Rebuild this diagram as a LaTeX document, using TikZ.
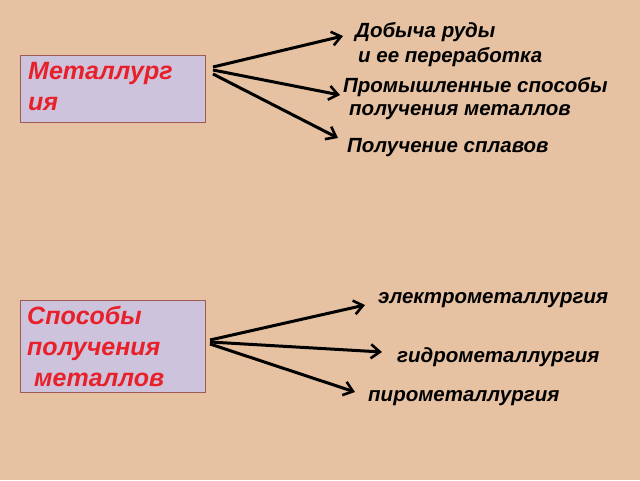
\documentclass[tikz,border=0pt]{standalone}
\usepackage{fontspec}
\setmainfont{Liberation Sans}
\usetikzlibrary{arrows.meta}
\definecolor{bg}{HTML}{E6C2A2}
\definecolor{boxf}{HTML}{CEC3DC}
\definecolor{boxd}{HTML}{9E5A55}
\definecolor{red1}{HTML}{E8202A}
\tikzset{
 box/.style={draw=boxd,line width=1.2pt,fill=boxf,anchor=north west,minimum width=185pt,inner sep=0pt},
 lbl/.style={anchor=west,font=\fontsize{20.5}{23}\selectfont\bfseries\itshape,inner sep=0pt,align=left},
 btxt/.style={anchor=north west,font=\fontsize{25}{31}\selectfont\bfseries\itshape,text=red1,align=left,inner sep=0pt},
 arr/.style={line width=3pt,-{Straight Barb[length=9pt,width=14pt,line width=2.6pt]}}
}
\begin{document}
\begin{tikzpicture}[x=1pt,y=-1pt]
\fill[bg] (0,0) rectangle (640,480);
\useasboundingbox (0,0) rectangle (640,480);
\node[box,minimum height=67pt] (b1) at (20,55) {};
\node[btxt] (t1) at (28,62) {Металлург\\ия};
\node[box,minimum height=92pt] (b2) at (20,300) {};
\node[btxt] (t2) at (27,306) {Способы\\получения\\ \ металлов};
\node[lbl] (a1) at (355,32) {Добыча руды};
\node[lbl] (a2) at (358,57) {и ее переработка};
\node[lbl] (a3) at (343,87) {Промышленные способы};
\node[lbl] (a4) at (349,112) {получения металлов};
\node[lbl] (a5) at (347,148) {Получение сплавов};
\node[lbl] (c1) at (378,300) {электрометаллургия};
\node[lbl] (c2) at (397,357) {гидрометаллургия};
\node[lbl] (c3) at (368,398) {пирометаллургия};
\coordinate (s1) at (213,67);
\coordinate (s2) at (213,70);
\coordinate (s3) at (213,74);
\coordinate (r1) at (210,340);
\coordinate (r2) at (210,342);
\coordinate (r3) at (210,344);
\draw[arr] (s1) -- ([xshift=-12pt,yshift=-4pt]a1.west);
\draw[arr] (s2) -- ([xshift=-3pt,yshift=-8pt]a3.west);
\draw[arr] (s3) -- ([xshift=-9pt,yshift=10pt]a5.west);
\draw[arr] (r1) -- ([xshift=-13pt,yshift=-5pt]c1.west);
\draw[arr] (r2) -- ([xshift=-15pt,yshift=5pt]c2.west);
\draw[arr] (r3) -- ([xshift=-13pt,yshift=6pt]c3.west);
\end{tikzpicture}
\end{document}
